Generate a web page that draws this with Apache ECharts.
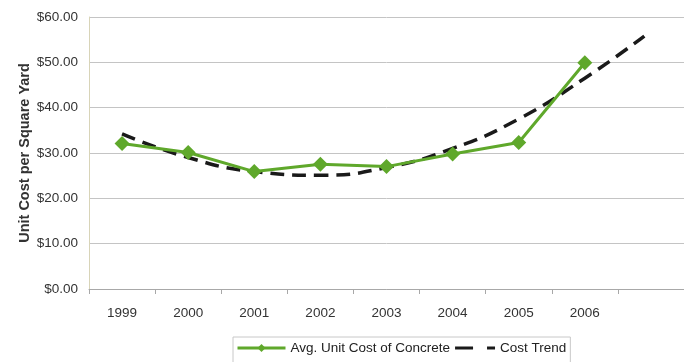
<!DOCTYPE html>
<html>
<head>
<meta charset="utf-8">
<script src="https://cdn.jsdelivr.net/npm/echarts@6/dist/echarts.min.js"></script>
<style>
  html, body { margin: 0; padding: 0; background: #fff; }
  #chart { width: 684px; height: 362px; }
</style>
</head>
<body>
<div id="chart"></div>
<script>
// Years on the category axis (last slot holds the trend's forward projection)
const years = ['1999', '2000', '2001', '2002', '2003', '2004', '2005', '2006', ''];
// Average unit cost of concrete, $ per square yard
const avgCost = [32.1, 30.1, 25.9, 27.5, 27.0, 29.8, 32.3, 49.9];
// Cost trend: positions along the year axis (0 = 1999) and fitted values
const trendPos = [0, 1, 2, 3, 4, 5, 6, 7, 7.9];
const trendVal = [34.2, 29.0, 25.9, 25.1, 26.8, 31.0, 37.5, 46.5, 55.8];
// Value-axis tick labels
const yTicks = ['$0.00', '$10.00', '$20.00', '$30.00', '$40.00', '$50.00', '$60.00'];

const green = '#5fa82b';
// Legend key for the dashed trend: long dash, gap, short dash inside a 48x10 frame
const dashIcon = 'path://M0,0h0.01v0.01h-0.01z M48,10h0.01v0.01h-0.01z M8,3.5h18v3h-18z M40,3.5h8v3h-8z';

const chart = echarts.init(document.getElementById('chart'));
chart.setOption({
  animation: false,
  textStyle: { fontFamily: 'Liberation Sans, Arial, sans-serif' },
  grid: { left: 89, right: -6, top: 17, bottom: 73 },
  xAxis: [
    {
      type: 'category',
      data: years,
      boundaryGap: true,
      axisLine: { lineStyle: { color: '#a8a8a8', width: 1 } },
      axisTick: { show: true, length: 5, lineStyle: { color: '#a8a8a8' } },
      axisLabel: { color: '#333', fontSize: 13.5, margin: 17 },
      splitLine: { show: false }
    },
    {
      type: 'value',
      min: -0.5,
      max: 8.5,
      show: false
    }
  ],
  yAxis: {
    type: 'value',
    min: 0,
    max: 60,
    interval: 10,
    name: 'Unit Cost per Square Yard',
    nameLocation: 'middle',
    nameGap: 57,
    nameMoveOverlap: false,
    nameTextStyle: { fontSize: 14.5, fontWeight: 'bold', color: '#333' },
    axisLine: { show: true, onZero: false, lineStyle: { color: '#d8d4b8', width: 1 } },
    axisTick: { show: false },
    axisLabel: {
      color: '#333',
      fontSize: 13.5,
      margin: 11,
      formatter: (v) => yTicks[Math.round(v / 10)]
    },
    splitLine: { lineStyle: { color: '#c4c4c4', width: 1 } }
  },
  legend: {
    top: 337,
    left: 233,
    itemGap: -3,
    itemWidth: 48,
    itemHeight: 10,
    padding: [4, 4, 8, 3],
    borderColor: '#c8c8c8',
    borderWidth: 1,
    textStyle: { fontSize: 13.5, color: '#222' },
    data: [
      { name: 'Avg. Unit Cost of Concrete', lineStyle: { width: 3 } },
      { name: 'Cost Trend', icon: dashIcon, itemStyle: { color: '#1a1a1a' } }
    ]
  },
  series: [
    {
      name: 'Cost Trend',
      type: 'line',
      xAxisIndex: 1,
      data: trendPos.map((p, i) => [p, trendVal[i]]),
      smooth: 0.5,
      showSymbol: false,
      symbol: 'none',
      lineStyle: { color: '#1a1a1a', width: 3.5, type: [14, 8] },
      itemStyle: { color: '#1a1a1a' },
      z: 2
    },
    {
      name: 'Avg. Unit Cost of Concrete',
      type: 'line',
      xAxisIndex: 0,
      data: avgCost,
      symbol: 'diamond',
      symbolSize: 15,
      lineStyle: { color: green, width: 3 },
      itemStyle: { color: green },
      z: 3
    }
  ]
});
</script>
</body>
</html>
